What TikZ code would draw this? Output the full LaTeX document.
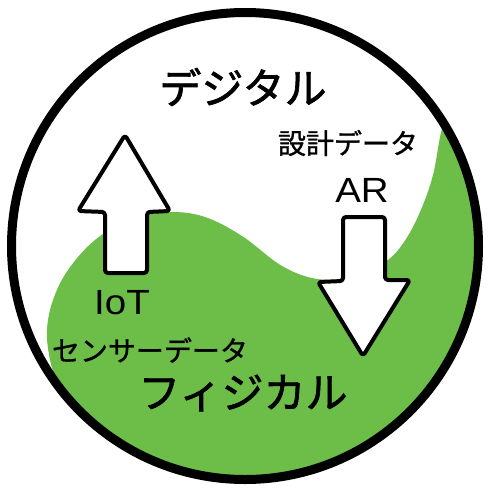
\documentclass[tikz,border=0pt]{standalone}
\usepackage{fontspec}
\setmainfont{Noto Sans CJK JP}
\newfontfamily\jpheavy{Noto Sans CJK JP}[FakeBold=1.6]
\newfontfamily\jpmid{Noto Sans CJK JP}[FakeBold=1.0]
\newfontfamily\latinfont{Liberation Sans}
\definecolor{leafgreen}{RGB}{108,190,72}
\tikzset{
  bigarrow/.style={draw=black, fill=white, line width=4pt, rounded corners=3pt, line join=round},
  ring/.style={draw=black, line width=9pt},
  bigtext/.style={font=\jpheavy\fontsize{42}{42}\selectfont, inner sep=0pt},
  midtext/.style={font=\jpmid\fontsize{28}{28}\selectfont, inner sep=0pt},
  lattext/.style={font=\latinfont\fontsize{35}{35}\selectfont, inner sep=0pt, xscale=1.1}
}
\begin{document}
\begin{tikzpicture}[x=1pt,y=-1pt]
\useasboundingbox (0,0) rectangle (490,491);
\fill[white] (0,0) rectangle (490,491);
% green region, clipped to circle
\begin{scope}
  \clip (245,246) circle[radius=233];
  \fill[leafgreen] plot[smooth, tension=0.6] coordinates {
    (462,80) (443,125) (433,175) (420,212) (404,242) (385,262) (350,277) (317,279)
    (282,266) (242,236) (205,217) (170,212) (132,218) (95,240) (68,270) (53,300)
    (47,330) (50,360) (58,385) (66,410)}
    -- (66,500) -- (500,500) -- (500,80) -- cycle;
\end{scope}
% outer ring
\draw[ring] (245,246) circle[radius=233.5];
% arrows
\draw[bigarrow] (125,135) -- (170,211) -- (147,212) -- (147,273) -- (105,273)
  -- (105,212) -- (78,211) -- cycle;
\draw[bigarrow] (343,217) -- (385,217) -- (385,280) -- (410,280) -- (363,356)
  -- (318,282) -- (343,281) -- cycle;
% texts
\node[bigtext] (digital) at (243,87) {デジタル};
\node[midtext] (design) at (348,143) {設計データ};
\node[lattext] (ar) at (362,190) {AR};
\node[lattext] (iot) at (122,303) {IoT};
\node[midtext] (sensor) at (150,350) {センサーデータ};
\node[bigtext] (physical) at (243,393) {フィジカル};
\end{tikzpicture}
\end{document}
